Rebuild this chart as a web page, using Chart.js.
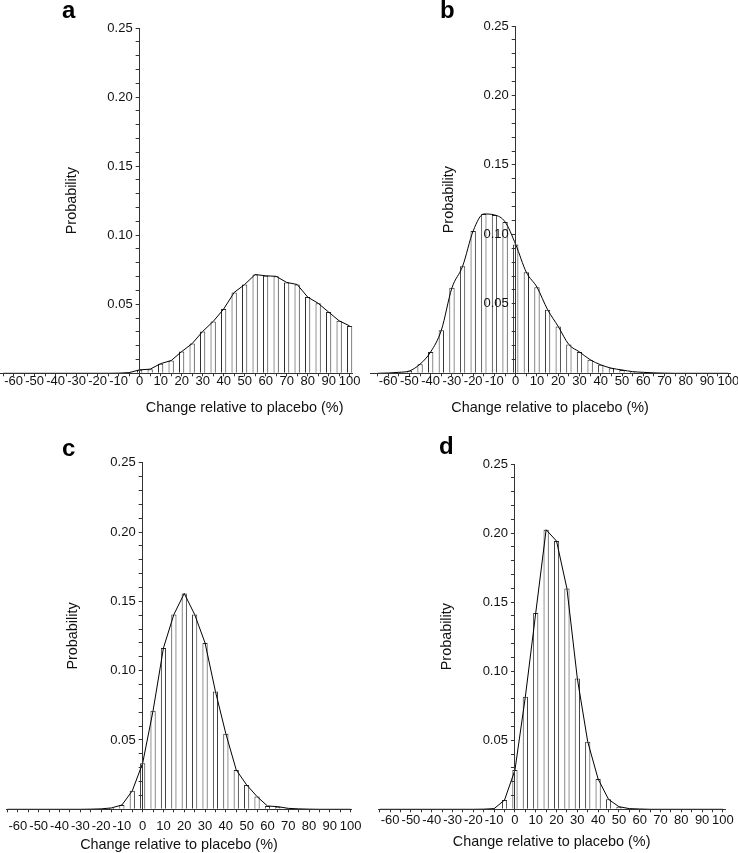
<!DOCTYPE html>
<html>
<head>
<meta charset="utf-8">
<script src="https://cdn.jsdelivr.net/npm/chart.js@4.4.1/dist/chart.umd.min.js"></script>
<style>
html,body{margin:0;padding:0;background:#fff;}
#wrap{position:relative;width:738px;height:853px;overflow:hidden;background:#fff;}
canvas{position:absolute;}
.lbl{position:absolute;font:bold 24px "Liberation Sans",Arial,Helvetica,sans-serif;line-height:24px;color:#000;}
</style>
</head>
<body>
<div id="wrap">
  <canvas id="ca"></canvas>
  <canvas id="cb"></canvas>
  <canvas id="cc"></canvas>
  <canvas id="cd"></canvas>
  <div class="lbl" style="left:62px;top:-2px">a</div>
  <div class="lbl" style="left:440px;top:-2px">b</div>
  <div class="lbl" style="left:62px;top:436px">c</div>
  <div class="lbl" style="left:439px;top:434px">d</div>
</div>
<script>
// ---- data ----
const binCenters = [-65,-60,-55,-50,-45,-40,-35,-30,-25,-20,-15,-10,-5,0,5,10,15,20,25,30,35,40,45,50,55,60,65,70,75,80,85,90,95,100];

const probA = [0,0,0,0,0,0,0,0,0,0,0,0.0001,0.0005,
  0.0025,0.003,0.007,0.0092,0.0157,0.0215,0.0303,0.0375,0.0465,0.0585,0.0643,0.0715,0.0706,0.0702,0.0658,0.0643,0.0552,0.0507,0.0443,0.038,0.0343];

const probB = [0,0.0002,0.0007,0.0017,0.0066,0.0154,0.031,0.0615,0.077,0.1025,0.1147,0.1140,0.109,
  0.0927,0.0727,0.062,0.0458,0.0337,0.0207,0.0154,0.0098,0.0061,0.0037,0.0024,0.0012,0.0007,0.0003,0.0001,0,0,0,0,0,0];

const probC = [0,0,0,0,0,0,0,0,0.0001,0.0003,0.001,0.0031,0.0133,
  0.0333,0.0711,0.1164,0.1405,0.1557,0.1405,0.120,0.085,0.0545,0.0284,0.0176,0.0092,0.0024,0.0019,0.0007,0.0003,0.0001,0,0,0,0];

const probD = [0,0,0,0,0,0,0,0,0,0,0.0001,0.0005,0.0067,
  0.0284,0.0814,0.1422,0.2024,0.1942,0.1598,0.0947,0.0489,0.0219,0.0072,0.0019,0.0005,0.0002,0,0,0,0,0,0,0,0];

const xTickLabels = ['-60','-50','-40','-30','-20','-10','0','10','20','30','40','50','60','70','80','90','100'];
const yTickLabels = ['0.05','0.10','0.15','0.20','0.25'];
const xAxisTitle = 'Change relative to placebo (%)';
const yAxisTitle = 'Probability';

// ---- rendering ----
const FONT = '"Liberation Sans", Arial, Helvetica, sans-serif';
const AXIS_COLOR = '#333';
const TITLE_SIZE = 14.4;
const TICK_SIZE = 13;

// x-axis title (drawn under the axis, centred where the original puts it)
const xTitlePlugin = {
  id: 'xTitle',
  afterDraw(chart, args, opts) {
    const {ctx, chartArea, scales} = chart;
    ctx.save();
    ctx.fillStyle = '#111';
    ctx.font = TITLE_SIZE + 'px ' + FONT;
    ctx.textAlign = 'center';
    ctx.textBaseline = 'middle';
    const cx = (opts.value !== null && opts.value !== undefined)
      ? scales.x.getPixelForValue(opts.value)
      : (chartArea.left + chartArea.right) / 2;
    ctx.fillText(opts.text, cx, chartArea.bottom + opts.dy);
    ctx.restore();
  }
};

// put the (left) y axis where x = 0, like the original
const yAtZeroPlugin = {
  id: 'yAtZero',
  afterLayout(chart, args, opts) {
    const ys = chart.scales.y;
    const px = chart.scales.x.getPixelForValue(0);
    ys.right = px;
    ys.left = px - opts.width;
    ys.width = opts.width;
  }
};

function makePanel(id, values, g) {
  const canvas = document.getElementById(id);
  canvas.width = g.cw; canvas.height = g.ch;
  canvas.style.left = g.cx + 'px'; canvas.style.top = g.cy + 'px';
  canvas.style.width = g.cw + 'px'; canvas.style.height = g.ch + 'px';
  const pts = binCenters.map((x, i) => ({x: x, y: values[i]}));
  const xH = Math.max(17, 3 + g.xPad + 16);
  new Chart(canvas, {
    type: 'bar',
    data: {
      datasets: [
        {type: 'line', data: pts, borderColor: '#000', borderWidth: 1, pointRadius: 0,
         tension: g.smooth ? 0.4 : 0, cubicInterpolationMode: g.smooth ? 'monotone' : 'default', order: 0},
        {type: 'bar', data: pts, backgroundColor: '#fff', borderColor: '#2a2a2a', borderWidth: 1,
         barPercentage: 0.5, categoryPercentage: 1, order: 1}
      ]
    },
    options: {
      responsive: false, animation: false, devicePixelRatio: 1,
      layout: {padding: {left: g.left - g.cx, right: g.cx + g.cw - g.right, top: g.top - g.cy, bottom: g.cy + g.ch - g.bottom - xH}},
      plugins: {
        legend: {display: false}, tooltip: {enabled: false},
        xTitle: {text: xAxisTitle, value: g.xTitleValue, dy: g.xTitleDy},
        yAtZero: {width: g.yTitleDx + TITLE_SIZE * 0.6}
      },
      scales: {
        x: {
          type: 'linear', min: g.xmin, max: g.xmax, offset: false,
          grid: {display: true, drawOnChartArea: false, drawTicks: true, tickLength: 3, color: AXIS_COLOR, offset: false, z: 1},
          border: {display: true, color: AXIS_COLOR, width: 1, z: 1},
          ticks: {stepSize: 5, includeBounds: false, autoSkip: false, maxRotation: 0, minRotation: 0,
                  padding: g.xPad, color: '#111', z: 1, font: {family: FONT, size: TICK_SIZE, lineHeight: 1},
                  callback: (v) => { const s = String(v); return xTickLabels.includes(s) ? s : ''; }},
          afterFit: (s) => { s.height = xH; }
        },
        y: {
          type: 'linear', min: 0, max: 0.25, position: 'left',
          grid: {display: true, drawOnChartArea: false, drawTicks: true, tickLength: 4, color: AXIS_COLOR, z: 1},
          border: {display: true, color: AXIS_COLOR, width: 1, z: 1},
          title: {display: true, text: yAxisTitle, color: '#111', padding: 0, font: {family: FONT, size: TITLE_SIZE, lineHeight: 1.2}},
          ticks: {stepSize: 0.01, autoSkip: false, padding: 3, color: '#111', z: 1, font: {family: FONT, size: TICK_SIZE},
                  callback: (v) => { const s = Number(v).toFixed(2); return yTickLabels.includes(s) ? s : ''; }},
          afterFit: (s) => { s.width = 0; }
        }
      }
    },
    plugins: [yAtZeroPlugin, xTitlePlugin]
  });
}

makePanel('ca', probA, {cx: 0, cy: 0, cw: 369, ch: 420, left: 0, right: 352.8, top: 28, bottom: 373.3,
  xmin: -66.5, xmax: 101.5, xPad: -1.5, xTitleValue: 50, xTitleDy: 34.7, yTitleDx: 68, smooth: false});
makePanel('cb', probB, {cx: 369, cy: 0, cw: 369, ch: 420, left: 370.1, right: 730, top: 26, bottom: 373.3,
  xmin: -68.5, xmax: 100.8, xPad: -1.5, xTitleValue: null, xTitleDy: 34.7, yTitleDx: 67, smooth: true});
makePanel('cc', probC, {cx: 0, cy: 420, cw: 369, ch: 433, left: 3.3, right: 352.7, top: 462.7, bottom: 809.3,
  xmin: -65.6, xmax: 100.5, xPad: 7.5, xTitleValue: null, xTitleDy: 36, yTitleDx: 70, smooth: false});
makePanel('cd', probD, {cx: 369, cy: 420, cw: 369, ch: 433, left: 378.3, right: 725, top: 464, bottom: 809.3,
  xmin: -65.7, xmax: 101, xPad: 1.5, xTitleValue: null, xTitleDy: 32.4, yTitleDx: 68, smooth: false});
</script>
</body>
</html>
